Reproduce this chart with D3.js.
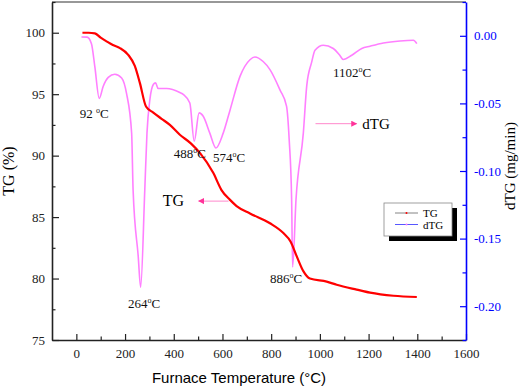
<!DOCTYPE html>
<html>
<head>
<meta charset="utf-8">
<script src="https://cdn.jsdelivr.net/npm/d3@7"></script>
<style>
  body { margin: 0; background: #fff; }
  text { font-family: "Liberation Serif", "Times New Roman", serif; }
</style>
</head>
<body>
<div id="chart"></div>
<script>
var w = 526;
var h = 390;
var margin = { top: 2, right: 60, bottom: 50, left: 52 };
var width = w - margin.left - margin.right;
var height = h - margin.top - margin.bottom;

// TG curve (%)
var tgTemp = [25, 50, 76, 100, 124, 150, 179, 213, 240, 261, 286, 316, 350, 384, 425, 470, 508, 562, 596, 631, 658, 713, 795, 850, 880, 905, 932, 959, 1028, 1069, 1151, 1206, 1302, 1398];
var tgVal = [100, 100, 99.95, 99.6, 99.3, 99.0, 98.75, 98.2, 97.3, 95.9, 94.0, 93.5, 93.0, 92.5, 91.7, 91.0, 90.2, 88.6, 87.2, 86.4, 85.9, 85.3, 84.5, 83.7, 83.0, 81.8, 80.6, 80.0, 79.75, 79.5, 79.1, 78.85, 78.6, 78.5];

// dTG curve (mg/min)
var dtgTemp = [21, 44, 62, 76, 94, 110, 131, 158, 186, 206, 227, 233, 254, 264, 281, 290, 302, 316, 325, 336, 371, 425, 440, 466, 484, 504, 521, 548, 573, 603, 631, 672, 713, 733, 767, 795, 836, 863, 874, 884, 888, 902, 932, 946, 966, 980, 1014, 1055, 1080, 1096, 1131, 1172, 1206, 1261, 1329, 1384, 1398];
var dtgVal = [-0.0009, -0.001, -0.0058, -0.023, -0.0463, -0.0375, -0.0308, -0.0284, -0.0312, -0.0426, -0.072, -0.114, -0.163, -0.186, -0.114, -0.072, -0.047, -0.036, -0.0348, -0.039, -0.039, -0.042, -0.0435, -0.0497, -0.078, -0.057, -0.0595, -0.072, -0.083, -0.072, -0.055, -0.030, -0.0177, -0.0157, -0.019, -0.025, -0.040, -0.052, -0.077, -0.121, -0.171, -0.121, -0.072, -0.037, -0.0197, -0.0107, -0.007, -0.0094, -0.014, -0.0175, -0.0144, -0.0094, -0.0077, -0.0053, -0.0038, -0.0033, -0.0058];

// peak annotations: text, anchor temperature, anchor dTG value
var peakText = ["92 ", "264", "488", "574", "886", "1102"];
var peakT = [14, 212, 400, 561, 795, 1054];
var peakD = [-0.0608, -0.2017, -0.0903, -0.0933, -0.1825, -0.0306];

var xTicks = [0, 200, 400, 600, 800, 1000, 1200, 1400, 1600];
var yTicks = [75, 80, 85, 90, 95, 100];
var rTicks = [0, -0.05, -0.10, -0.15, -0.20];

var tgData = tgTemp.map(function(t, i) { return { t: t, v: tgVal[i] }; });
var dtgData = dtgTemp.map(function(t, i) { return { t: t, v: dtgVal[i] }; });

var xScale = d3.scaleLinear().domain([-100, 1600]).range([0, width]);
var yScale = d3.scaleLinear().domain([75, 102.5]).range([height, 0]);
var rScale = d3.scaleLinear().domain([-0.225, 0.025]).range([height, 0]);

var svg = d3.select("#chart").append("svg")
    .attr("width", w).attr("height", h)
    .append("g")
    .attr("transform", "translate(" + margin.left + "," + margin.top + ")");

// top frame line
svg.append("line")
    .attr("x1", 0).attr("x2", width).attr("y1", 0).attr("y2", 0)
    .attr("stroke", "#333").attr("stroke-width", 1.2);

// dTG line (drawn under TG)
svg.append("path")
    .datum(dtgData)
    .attr("d", d3.line().curve(d3.curveMonotoneX)
        .x(function(d) { return xScale(d.t); })
        .y(function(d) { return rScale(d.v); }))
    .attr("fill", "none")
    .attr("stroke", "#ff7fff")
    .attr("stroke-width", 1.6);

// TG line
svg.append("path")
    .datum(tgData)
    .attr("d", d3.line().curve(d3.curveMonotoneX)
        .x(function(d) { return xScale(d.t); })
        .y(function(d) { return yScale(d.v); }))
    .attr("fill", "none")
    .attr("stroke", "#ff0000")
    .attr("stroke-width", 2.2);

function styleAxis(g, color) {
    g.select(".domain").attr("stroke", color).attr("stroke-width", 1.6);
    g.selectAll(".tick line").attr("stroke", color).attr("stroke-width", 1.2);
    g.selectAll(".tick text").attr("fill", color)
        .style("font-family", "Liberation Serif").style("font-size", "13px");
}

// bottom axis
var xAxis = svg.append("g")
    .attr("transform", "translate(0," + height + ")")
    .call(d3.axisBottom(xScale).tickValues(xTicks).tickFormat(d3.format("d"))
        .tickSizeInner(-6).tickSizeOuter(0).tickPadding(9));
styleAxis(xAxis, "#222");
var xMinor = svg.append("g")
    .attr("transform", "translate(0," + height + ")")
    .call(d3.axisBottom(xScale).tickValues(d3.range(100, 1600, 200)).tickSize(-3.5).tickFormat(""));
xMinor.select(".domain").remove();
xMinor.selectAll("line").attr("stroke", "#222").attr("stroke-width", 1.2);

// left axis
var yAxis = svg.append("g")
    .call(d3.axisLeft(yScale).tickValues(yTicks).tickSizeInner(-7).tickSizeOuter(0).tickPadding(7));
styleAxis(yAxis, "#222");
var yMinor = svg.append("g")
    .call(d3.axisLeft(yScale).tickValues([77.5, 82.5, 87.5, 92.5, 97.5, 102.5]).tickSize(-3.5).tickFormat(""));
yMinor.select(".domain").remove();
yMinor.selectAll("line").attr("stroke", "#222").attr("stroke-width", 1.2);

// right axis
var rAxis = svg.append("g")
    .attr("transform", "translate(" + width + ",0)")
    .call(d3.axisRight(rScale).tickValues(rTicks).tickSizeInner(-6).tickSizeOuter(0).tickPadding(8)
        .tickFormat(d3.format(".2f")));
styleAxis(rAxis, "#0000ff");
rAxis.selectAll(".tick text").text(function(d) { return d3.format(".2f")(d).replace("−", "-"); });
var rMinor = svg.append("g")
    .attr("transform", "translate(" + width + ",0)")
    .call(d3.axisRight(rScale).tickValues([0.025, -0.025, -0.075, -0.125, -0.175, -0.225]).tickSize(-3.5).tickFormat(""));
rMinor.select(".domain").remove();
rMinor.selectAll("line").attr("stroke", "#0000ff").attr("stroke-width", 1.2);

// axis titles
svg.append("text")
    .attr("x", width / 2 - 20).attr("y", height + 43)
    .attr("text-anchor", "middle")
    .style("font-family", "Liberation Sans, Arial, sans-serif")
    .style("font-size", "15px")
    .text("Furnace Temperature (\u00B0C)");

svg.append("text")
    .attr("transform", "translate(" + (-38) + "," + (height / 2) + ") rotate(-90)")
    .attr("text-anchor", "middle")
    .style("font-size", "16px")
    .text("TG (%)");

svg.append("text")
    .attr("transform", "translate(" + (width + 49) + "," + (height / 2 - 5) + ") rotate(-90)")
    .attr("text-anchor", "middle")
    .style("font-size", "15px")
    .text("dTG (mg/min)");

// peak labels
peakText.forEach(function(t, i) {
    var txt = svg.append("text")
        .attr("x", xScale(peakT[i]))
        .attr("y", rScale(peakD[i]))
        .style("font-size", "13px")
        .attr("fill", "#111");
    txt.append("tspan").text(t);
    txt.append("tspan").attr("dy", -5).style("font-size", "8px").text("o");
    txt.append("tspan").attr("dy", 5).text("C");
});

// TG / dTG arrows
var defs = svg.append("defs");
defs.append("marker")
    .attr("id", "head").attr("viewBox", "0 0 10 10")
    .attr("refX", 9).attr("refY", 5)
    .attr("markerWidth", 8).attr("markerHeight", 6)
    .attr("markerUnits", "userSpaceOnUse")
    .attr("orient", "auto")
    .append("path").attr("d", "M0,0L10,5L0,10z").attr("fill", "#ff3399");

svg.append("line")
    .attr("x1", xScale(625)).attr("x2", xScale(502))
    .attr("y1", yScale(86.3)).attr("y2", yScale(86.3))
    .attr("stroke", "#ff88cc").attr("stroke-width", 1)
    .attr("marker-end", "url(#head)");
svg.append("text")
    .attr("x", xScale(355)).attr("y", yScale(86.3) + 5)
    .style("font-size", "16px")
    .text("TG");

svg.append("line")
    .attr("x1", xScale(982)).attr("x2", xScale(1151))
    .attr("y1", rScale(-0.065)).attr("y2", rScale(-0.065))
    .attr("stroke", "#ff88cc").attr("stroke-width", 1)
    .attr("marker-end", "url(#head)");
svg.append("text")
    .attr("x", xScale(1174)).attr("y", rScale(-0.065) + 5)
    .style("font-size", "15px")
    .text("dTG");

// legend
var lg = svg.append("g").attr("transform", "translate(" + (384 - margin.left) + "," + (203 - margin.top) + ")");
lg.append("rect").attr("x", 5).attr("y", 5).attr("width", 68).attr("height", 33).attr("fill", "#000");
lg.append("rect").attr("x", 0).attr("y", 0).attr("width", 68).attr("height", 33)
    .attr("fill", "#fff").attr("stroke", "#888").attr("stroke-width", 0.8);
var legendNames = ["TG", "dTG"];
var legendLine = ["#777", "#4444ff"];
var legendDot = ["#ff0000", "#ff7fff"];
legendNames.forEach(function(n, i) {
    var yy = 10 + i * 11.5;
    lg.append("line").attr("x1", 11).attr("x2", 34).attr("y1", yy).attr("y2", yy)
        .attr("stroke", legendLine[i]).attr("stroke-width", 0.9);
    lg.append("circle").attr("cx", 22.5).attr("cy", yy).attr("r", 1).attr("fill", legendDot[i]);
    lg.append("text").attr("x", 39).attr("y", yy + 4).style("font-size", "11px").text(n);
});
</script>
</body>
</html>
